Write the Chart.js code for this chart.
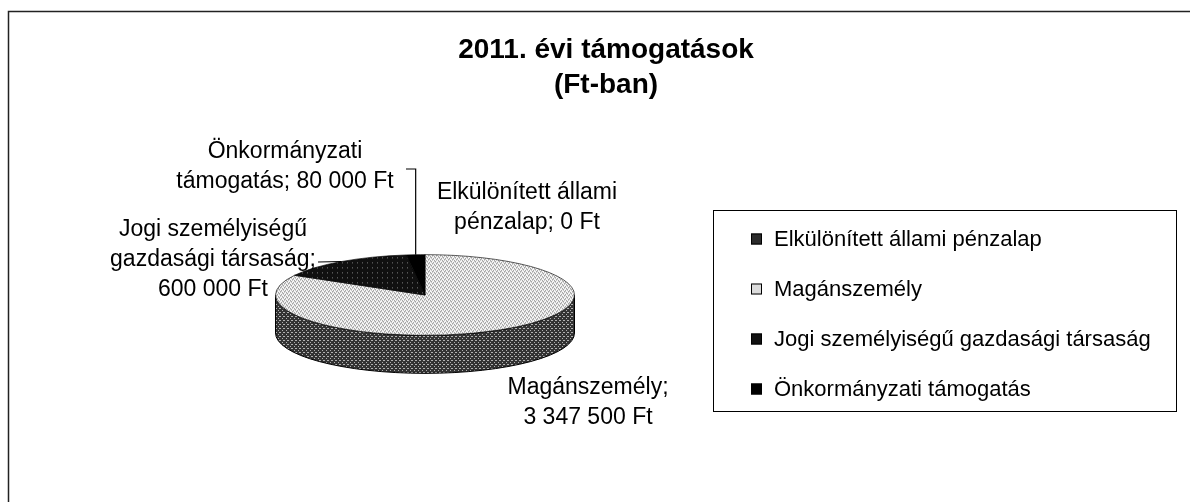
<!DOCTYPE html>
<html>
<head>
<meta charset="utf-8">
<script src="https://cdn.jsdelivr.net/npm/chart.js@4.4.0/dist/chart.umd.min.js"></script>
<style>
  html, body { margin: 0; padding: 0; background: #fff; }
  #wrap { width: 1190px; height: 502px; }
</style>
</head>
<body>
<div id="wrap"><canvas id="chart" width="1190" height="502"></canvas></div>
<script>
/* ---------- data ---------- */
const categories = ['Elkülönített állami pénzalap', 'Magánszemély', 'Jogi személyiségű gazdasági társaság', 'Önkormányzati támogatás'];
const amounts = [0, 3347500, 600000, 80000];
const titleLines = ['2011. évi támogatások', '(Ft-ban)'];

/* ---------- look ---------- */
const FONT = "'Liberation Sans', Arial, sans-serif";
const squash = 0.27;   // vertical tilt of the pie
const depth = 38;      // thickness of the pie wall

// where each data label sits (centre x, first baseline, wrap width) and its leader start
const labelLayout = [
    { x: 527, y: 199, wrap: 200 },
    { x: 588, y: 394, wrap: 170 },
    { x: 213, y: 236, wrap: 215, leader: [[318, 262]] },
    { x: 285, y: 158, wrap: 240, leader: [[406, 169], ['arc', 169]] }
];

function makePattern(base, dot, spots, size) {
    const c = document.createElement('canvas');
    c.width = size; c.height = size;
    const g = c.getContext('2d');
    g.fillStyle = base; g.fillRect(0, 0, size, size);
    g.fillStyle = dot;
    spots.forEach(p => g.fillRect(p[0], p[1], 1, 1));
    return g.createPattern(c, 'repeat');
}

const ctx0 = document.getElementById('chart').getContext('2d');
const topFills = [
    '#2b2b2b',
    makePattern('#f4f4f4', '#777777', [[0, 0], [2, 1], [1, 3], [3, 2]], 4),
    makePattern('#101010', '#808080', [[2, 2]], 5),
    '#000000'
];
const sideFills = [
    '#1c1c1c',
    makePattern('#333333', '#b0b0b0', [[0, 0], [2, 2], [3, 0]], 4),
    '#0a0a0a',
    '#000000'
];
const legendFills = ['#2b2b2b', '#dcdcdc', '#111111', '#000000'];

// undo the squash on patterns used on the tilted top
topFills.forEach(f => { if (f instanceof CanvasPattern) f.setTransform(new DOMMatrix().scale(1, 1 / squash)); });

function fmt(v) {
    return String(v).replace(/\B(?=(\d{3})+(?!\d))/g, ' ') + ' Ft';
}

function wrapText(ctx, text, width) {
    const words = text.split(' ');
    const lines = [];
    let cur = '';
    words.forEach(w => {
        const test = cur ? cur + ' ' + w : w;
        if (cur && ctx.measureText(test).width > width) { lines.push(cur); cur = w; }
        else cur = test;
    });
    if (cur) lines.push(cur);
    return lines;
}

function edgePoint(arc) {
    const m = (arc.startAngle + arc.endAngle) / 2;
    return { x: arc.x + arc.outerRadius * Math.cos(m), y: arc.y + arc.outerRadius * squash * Math.sin(m) };
}

/* ---------- 3D pie: wall first, then squashed top ---------- */
const pie3d = {
    id: 'pie3d',
    beforeDraw(chart) {
        const ctx = chart.ctx;
        ctx.save();
        ctx.strokeStyle = '#222';
        ctx.lineWidth = 1.5;
        ctx.beginPath();
        ctx.moveTo(8.5, 502); ctx.lineTo(8.5, 11.5); ctx.lineTo(1190, 11.5);
        ctx.stroke();
        ctx.restore();
    },
    beforeDatasetsDraw(chart) {
        const ctx = chart.ctx;
        const arcs = chart.getDatasetMeta(0).data;
        const cx = arcs[0].x, cy = arcs[0].y, r = arcs[0].outerRadius, ry = r * squash;
        arcs.forEach((arc, i) => {
            [-2 * Math.PI, 0, 2 * Math.PI].forEach(shift => {
                const a = Math.max(arc.startAngle, shift), b = Math.min(arc.endAngle, shift + Math.PI);
                if (b <= a) return;
                ctx.beginPath();
                ctx.ellipse(cx, cy, r, ry, 0, a, b);
                ctx.ellipse(cx, cy + depth, r, ry, 0, b, a, true);
                ctx.closePath();
                ctx.fillStyle = sideFills[i];
                ctx.fill();
                ctx.strokeStyle = '#000';
                ctx.lineWidth = 1;
                ctx.stroke();
            });
        });
        ctx.save();
        ctx.translate(cx, cy);
        ctx.scale(1, squash);
        ctx.translate(-cx, -cy);
    },
    afterDatasetsDraw(chart) {
        chart.ctx.restore();
    },
    afterDraw(chart) {
        const ctx = chart.ctx;
        const arcs = chart.getDatasetMeta(0).data;
        ctx.save();
        ctx.fillStyle = '#000';
        ctx.strokeStyle = '#000';

        // title
        ctx.font = 'bold 28px ' + FONT;
        ctx.textAlign = 'center';
        ctx.textBaseline = 'alphabetic';
        titleLines.forEach((t, i) => ctx.fillText(t, 606, 58 + i * 35));

        // data labels + leader lines
        ctx.font = '23px ' + FONT;
        categories.forEach((cat, i) => {
            const lay = labelLayout[i];
            const lines = wrapText(ctx, cat + '; ' + fmt(amounts[i]), lay.wrap);
            lines.forEach((l, j) => ctx.fillText(l, lay.x, lay.y + j * 30));
            if (lay.leader) {
                const end = edgePoint(arcs[i]);
                ctx.lineWidth = 1.2;
                ctx.beginPath();
                lay.leader.forEach((p, j) => {
                    const px = p[0] === 'arc' ? end.x : p[0];
                    if (j === 0) ctx.moveTo(px, p[1]); else ctx.lineTo(px, p[1]);
                });
                ctx.lineTo(end.x, end.y);
                ctx.stroke();
            }
        });

        // legend
        ctx.lineWidth = 1;
        ctx.strokeRect(713.5, 210.5, 463, 201);
        ctx.font = '22px ' + FONT;
        ctx.textAlign = 'left';
        ctx.textBaseline = 'middle';
        categories.forEach((cat, i) => {
            const y = 239 + i * 50;
            ctx.fillStyle = legendFills[i];
            ctx.fillRect(751, y - 5.5, 11, 11);
            ctx.strokeRect(751.5, y - 5, 10, 10);
            ctx.fillStyle = '#000';
            ctx.fillText(cat, 774, y + 1);
        });
        ctx.restore();
    }
};

new Chart(ctx0, {
    type: 'pie',
    data: {
        labels: categories,
        datasets: [{
            data: amounts,
            backgroundColor: topFills,
            borderColor: '#000',
            borderWidth: 1,
            hoverOffset: 0
        }]
    },
    options: {
        responsive: false,
        animation: false,
        events: [],
        layout: { padding: { left: 275, right: 615, top: 145, bottom: 57 } },
        plugins: {
            legend: { display: false },
            title: { display: false },
            tooltip: { enabled: false }
        }
    },
    plugins: [pie3d]
});
</script>
</body>
</html>
